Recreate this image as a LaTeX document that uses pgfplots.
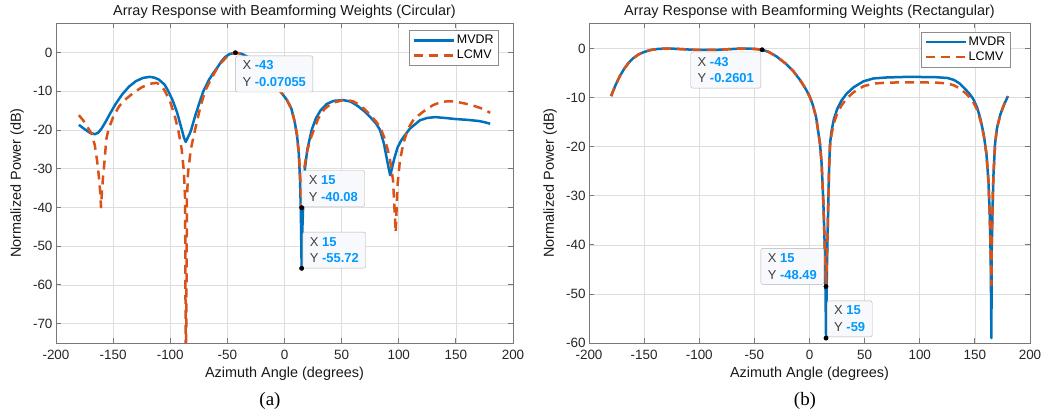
\documentclass[border=0pt]{standalone}
\usepackage{fontspec}
\setmainfont{Liberation Sans}
\newfontfamily\capfont{Liberation Serif}
\usepackage{pgfplots}
\pgfplotsset{compat=1.18}

\definecolor{mblue}{RGB}{0,114,189}
\definecolor{morange}{RGB}{217,83,25}
\definecolor{tipblue}{RGB}{0,153,255}
\definecolor{tipfill}{RGB}{248,249,252}
\definecolor{axgray}{RGB}{120,120,120}

\tikzset{tip/.style={draw=black!30, fill=tipfill, rounded corners=2bp, align=left,
    inner xsep=7bp, inner ysep=5bp, font=\fontsize{13}{17}\selectfont, text=black!75}}

\pgfplotsset{
  matlab/.style={
    scale only axis, height=320bp,
    xmin=-200, xmax=200,
    xtick={-200,-150,...,200},
    xticklabels={-200,-150,-100,-50,0,50,100,150,200},
    grid=major, major grid style={black!13, line width=0.6bp},
    axis line style={axgray, line width=0.8bp},
    tick style={axgray, line width=0.8bp}, major tick length=5bp,
    tick label style={font=\fontsize{13.5}{15}\selectfont, text=black!85},
    xticklabel style={yshift=-4bp},
    title style={font=\fontsize{14.5}{16}\selectfont, text=black!90,
      at={(0.5,1)}, anchor=center, yshift=5bp},
    label style={font=\fontsize{14.5}{16}\selectfont, text=black!90},
    xlabel={Azimuth Angle (degrees)},
    ylabel={Normalized Power (dB)},
    xlabel style={at={(axis description cs:0.5,-0.097)}, anchor=center},
    legend style={draw=black!45, fill=white, font=\fontsize{12.5}{14}\selectfont,
      inner xsep=3bp, inner ysep=3bp, row sep=1bp, cells={anchor=west}},
    legend image code/.code={\draw[##1] (0bp,0bp) -- (40bp,0bp);},
    mvdr/.style={mblue, line width=2.5bp, line join=round},
    lcmv/.style={morange, line width=2.5bp, line join=round, dash pattern=on 9bp off 6bp},
  }
}

\begin{document}
\begin{tikzpicture}
\useasboundingbox (0,0) rectangle (1051bp,419bp);

% (a) circular array
\begin{axis}[matlab, at={(56bp,76bp)}, anchor=south west, width=457bp,
    ymin=-75, ymax=7.6, ytick={-70,-60,...,0},
    yticklabels={-70,-60,-50,-40,-30,-20,-10,0},
    ylabel style={at={(axis description cs:-0.085,0.5)}, anchor=center},
    title={Array Response with Beamforming Weights (Circular)},
    legend style={at={(0.969,0.978)}, anchor=north east}]
\addplot[mvdr] coordinates {
(-180,-18.7) (-175,-19.8) (-170,-20.8) (-166,-21.1) (-163,-20.7) (-160,-19.6)
(-156,-17.6) (-152.7,-15.8) (-148,-13.4) (-142,-10.8) (-136,-8.8) (-130,-7.4)
(-124,-6.6) (-118,-6.3) (-114,-6.5) (-110,-7.0) (-105,-8.3) (-101.7,-10)
(-98,-12.3) (-94,-15.5) (-90,-19.8) (-88,-22) (-86.5,-23.1) (-85,-22.2)
(-83,-21) (-81.7,-20) (-78,-16.2) (-74,-12.6) (-71,-10) (-66,-7) (-62,-5.2)
(-59,-4) (-55,-2.2) (-52,-1.2) (-48,-0.4) (-43,-0.07) (-38,-0.3) (-33,-1.0)
(-28,-2.0) (-22,-3.6) (-15,-5.8) (-8,-8.4) (-3,-10.3) (2,-12.2) (6,-14.5)
(9,-18) (11,-21.5) (12.5,-26) (13.6,-33) (14.3,-41) (15,-55.72) (15.7,-45)
(16.5,-38) (17.9,-30) (20,-25) (23.8,-20) (27.5,-17) (31.7,-14.9) (37,-13.3)
(43,-12.5) (51.5,-12.3) (58,-12.7) (64,-13.8) (70,-15.2) (76,-17) (80,-18.3)
(83.6,-20) (87,-23.5) (90.9,-29.5) (92.5,-31.7) (94,-30) (96,-27.5) (99,-24.5)
(102,-22.8) (105.5,-21.3) (110,-19.6) (118.6,-17.5) (125,-16.9) (132,-16.7)
(140,-16.9) (150,-17.2) (160,-17.4) (170,-17.7) (175,-18) (180,-18.4)};
\addplot[lcmv] coordinates {
(-180,-16.2) (-176,-17.6) (-172,-19.5) (-168.8,-21) (-166,-24) (-164,-28)
(-162.5,-32) (-161.3,-36) (-160.6,-40) (-159.8,-36) (-158.8,-32) (-157.5,-28)
(-156,-22.5) (-154.2,-20) (-150,-16.7) (-145,-14) (-140,-12.3) (-132,-10.4)
(-125,-9) (-118,-8.1) (-112,-7.85) (-108,-8.5) (-104.6,-10) (-100,-12.8)
(-96,-16.5) (-93,-20) (-90,-25) (-88,-31) (-87,-38) (-86.3,-90) (-85.4,-38)
(-84.4,-31) (-82,-25) (-78.3,-20) (-74,-14.5) (-69.6,-10) (-65,-7.3) (-60,-4.6)
(-55,-2.5) (-50,-1.0) (-45,-0.2) (-43,-0.07) (-38,-0.3) (-33,-1.0) (-28,-2.0)
(-22,-3.6) (-15,-5.8) (-8,-8.4) (-3,-10.3) (2,-12.2) (6,-14.5) (9,-18)
(11,-21.5) (12.5,-26) (13.6,-31) (14.3,-35) (15,-40.08) (16,-34) (17.5,-29.5)
(19.5,-26) (22,-23) (25,-20.5) (29.6,-17) (35,-14.6) (42,-13) (53,-12.2)
(60,-12.6) (67,-13.8) (74,-15.8) (80,-17.8) (83.6,-19.2) (88,-22.5) (92,-27)
(95,-33) (97.3,-46.4) (99,-34) (101,-28) (104,-23.5) (108,-19.8) (113,-17.3)
(121.3,-15.3) (130,-13.6) (137,-12.8) (143,-12.6) (150,-12.7) (158,-13.2)
(165,-13.7) (172,-14.4) (178.4,-15.3) (180,-15.6)};
\legend{MVDR,LCMV}
\addplot[only marks, mark=*, mark size=2.2bp, black, forget plot]
  coordinates {(-43,-0.07055) (15,-40.08) (15,-55.72)};
\node[tip, anchor=north west, yshift=-3bp] at (axis cs:-43,-0.07055)
  {X \textcolor{tipblue}{\bfseries -43}\\Y \textcolor{tipblue}{\bfseries -0.07055}};
\node[tip, anchor=south west, yshift=1bp] at (axis cs:15,-40.08)
  {X \textcolor{tipblue}{\bfseries 15}\\Y \textcolor{tipblue}{\bfseries -40.08}};
\node[tip, anchor=south west, xshift=1bp] at (axis cs:15,-55.72)
  {X \textcolor{tipblue}{\bfseries 15}\\Y \textcolor{tipblue}{\bfseries -55.72}};
\end{axis}

% (b) rectangular array
\begin{axis}[matlab, at={(589bp,76bp)}, anchor=south west, width=441bp,
    ymin=-60, ymax=5.2, ytick={-60,-50,...,0},
    yticklabels={-60,-50,-40,-30,-20,-10,0},
    ylabel style={at={(axis description cs:-0.088,0.5)}, anchor=center},
    title={Array Response with Beamforming Weights (Rectangular)},
    legend style={at={(0.956,0.973)}, anchor=north east}]
\addplot[mvdr] coordinates {
(-180,-9.7) (-176,-7.5) (-172,-5.6) (-168,-4.1) (-164,-2.9) (-160,-2.0)
(-155,-1.2) (-150,-0.7) (-144,-0.3) (-138,-0.1) (-130,0) (-122,-0.05)
(-114,-0.15) (-106,-0.25) (-98,-0.3) (-90,-0.3) (-82,-0.25) (-74,-0.15)
(-66,-0.05) (-58,0) (-50,-0.07) (-43,-0.26) (-37,-0.7) (-30,-1.6) (-22,-3.0)
(-14.7,-4.6) (-8,-6.6) (-3,-8.4) (0.4,-9.9) (3,-11.5) (6,-14) (9.5,-19.4)
(11,-23.5) (12.5,-31) (13.5,-38) (14.3,-45) (15,-59) (15.7,-46) (16.4,-38)
(17.1,-31) (17.8,-24) (18.6,-19.4) (20,-16.8) (22,-14.5) (25,-12.4)
(29,-10.6) (33.7,-9.2) (40,-7.9) (48.8,-6.7) (58,-6.1) (70,-5.9) (85,-5.8)
(100,-5.8) (115,-5.85) (125,-6.0) (131,-6.4) (136,-7.1) (141,-8.2) (145,-9.2)
(148.3,-10.2) (152,-12) (155,-14.3) (158,-17.5) (160.5,-21.5) (162.3,-27)
(163.5,-34) (164.3,-42) (165,-59) (165.2,-42) (166,-33) (166.8,-26)
(168.3,-19.4) (170,-16.3) (173,-13.5) (176.5,-11.4) (180,-9.7)};
\addplot[lcmv] coordinates {
(-180,-9.7) (-176,-7.5) (-172,-5.6) (-168,-4.1) (-164,-2.9) (-160,-2.0)
(-155,-1.2) (-150,-0.7) (-144,-0.3) (-138,-0.1) (-130,0) (-122,-0.05)
(-114,-0.15) (-106,-0.25) (-98,-0.3) (-90,-0.3) (-82,-0.25) (-74,-0.15)
(-66,-0.05) (-58,0) (-50,-0.07) (-43,-0.26) (-37,-0.7) (-30,-1.6) (-22,-3.0)
(-14.7,-4.6) (-8,-6.6) (-3,-8.4) (0.4,-9.9) (3,-11.5) (6,-14) (9.5,-19.4)
(11,-23.5) (12.5,-31) (13.5,-38) (14.3,-43) (15,-48.49) (15.7,-43) (16.4,-38)
(17.1,-31) (17.8,-24.5) (18.6,-20) (20,-17.5) (22,-15.3) (25,-13.3)
(29,-11.6) (33.7,-10.2) (40,-8.9) (48.8,-7.7) (58,-7.15) (70,-6.95) (85,-6.9)
(100,-6.9) (115,-6.95) (125,-7.1) (131,-7.5) (136,-8.1) (141,-9.0) (145,-9.9)
(148.3,-10.8) (152,-12.5) (155,-14.6) (158,-17.7) (160.5,-21.5) (162.3,-27)
(163.5,-34) (164.3,-41) (165,-48.2) (165.2,-41) (166,-33) (166.8,-26)
(168.3,-19.4) (170,-16.3) (173,-13.5) (176.5,-11.4) (180,-9.7)};
\legend{MVDR,LCMV}
\addplot[only marks, mark=*, mark size=2.2bp, black, forget plot]
  coordinates {(-43,-0.2601) (15,-48.49) (15,-59)};
\node[tip, anchor=north east, xshift=-1bp, yshift=-2bp] at (axis cs:-43,-0.2601)
  {X \textcolor{tipblue}{\bfseries -43}\\Y \textcolor{tipblue}{\bfseries -0.2601}};
\node[tip, anchor=south east, xshift=-2bp, yshift=2bp] at (axis cs:15,-48.49)
  {X \textcolor{tipblue}{\bfseries 15}\\Y \textcolor{tipblue}{\bfseries -48.49}};
\node[tip, anchor=south west, xshift=1bp, yshift=1bp] at (axis cs:15,-59)
  {X \textcolor{tipblue}{\bfseries 15}\\Y \textcolor{tipblue}{\bfseries -59}};
\end{axis}

\node[font=\capfont\fontsize{19}{22}\selectfont] at (270bp,18bp) {(a)};
\node[font=\capfont\fontsize{19}{22}\selectfont] at (805bp,18bp) {(b)};
\end{tikzpicture}
\end{document}
